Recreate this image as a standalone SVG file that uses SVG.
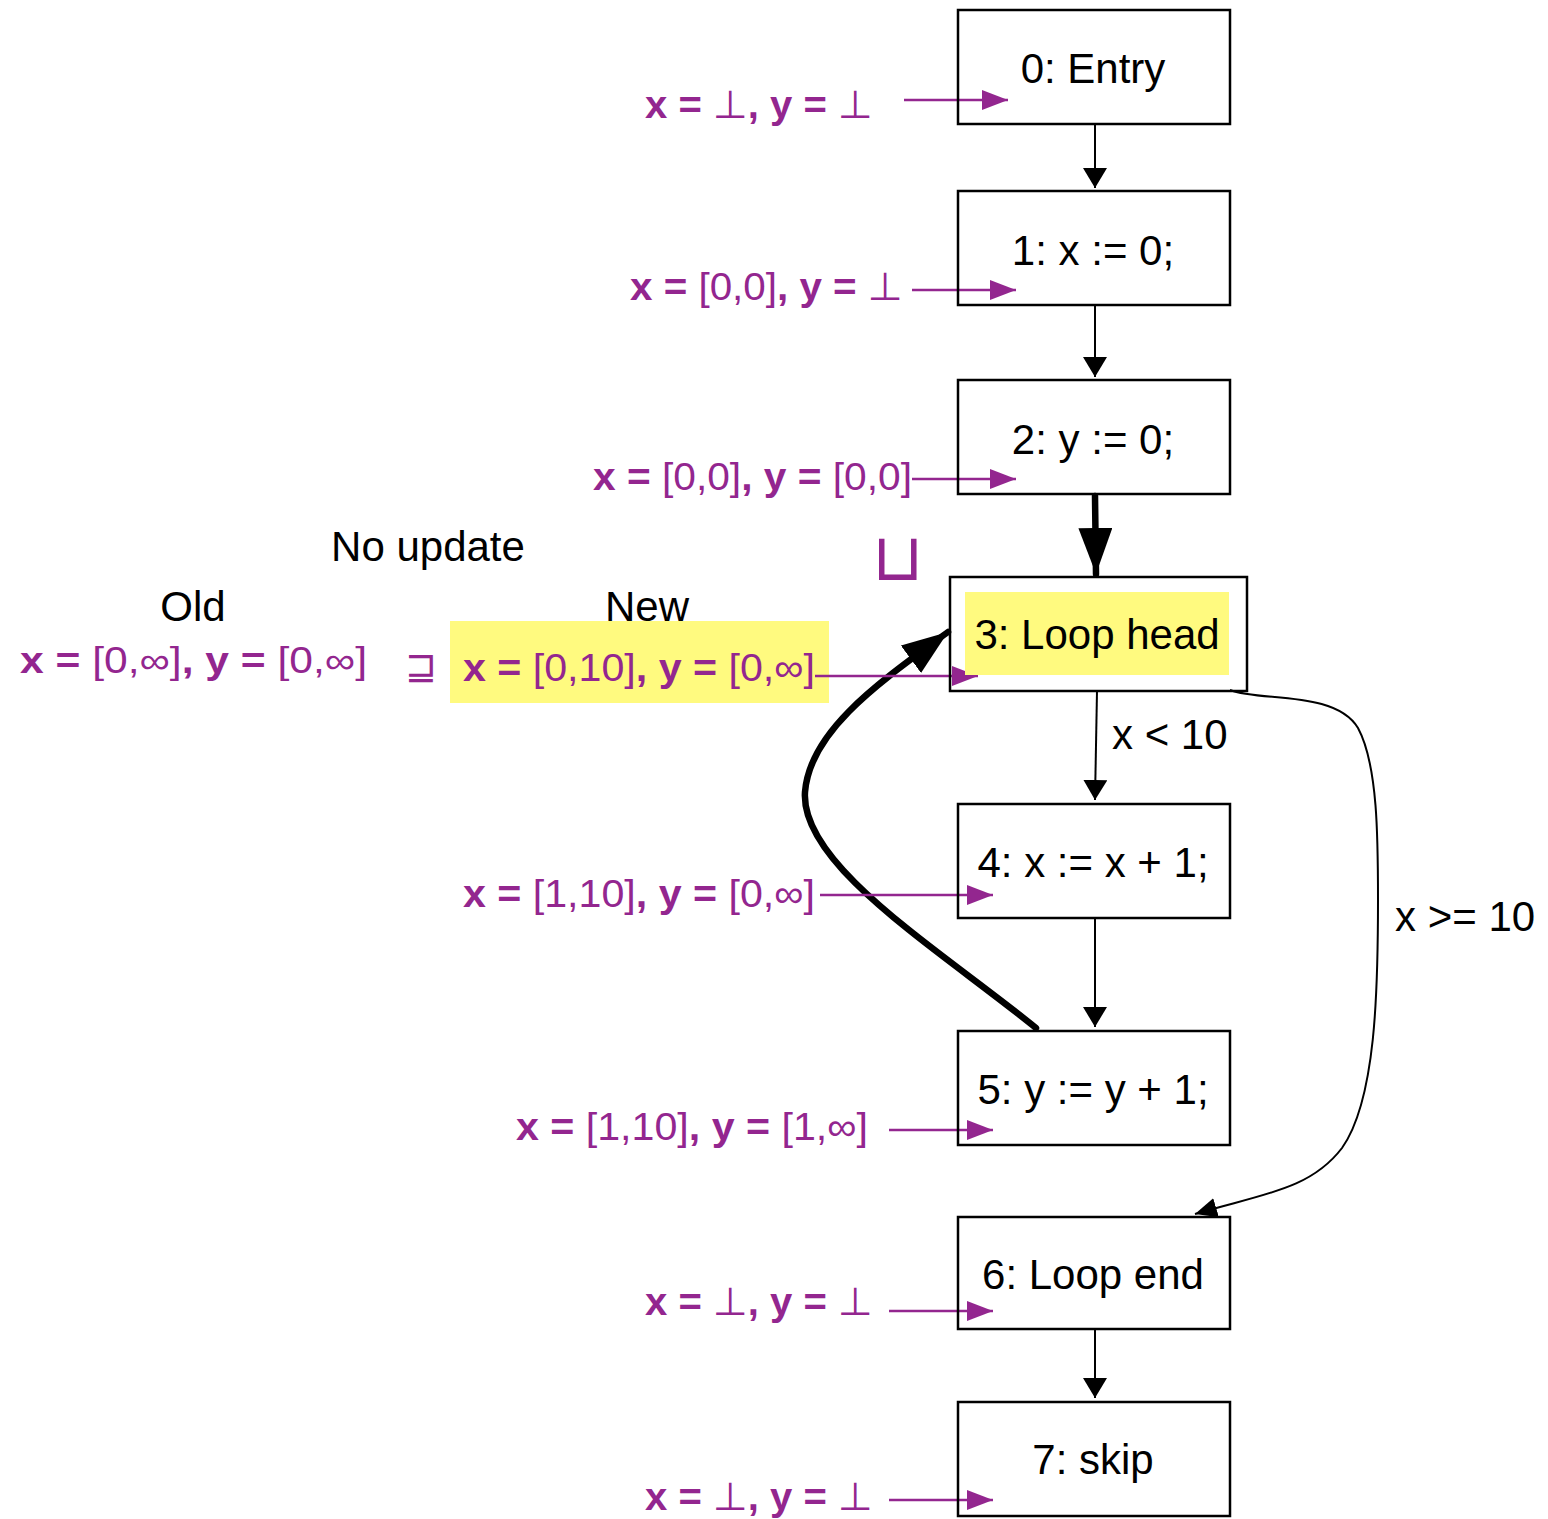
<svg xmlns="http://www.w3.org/2000/svg" width="1548" height="1519" viewBox="0 0 1548 1519">
<style>
.box{fill:none;stroke:#000;stroke-width:2.5}
.lbl{font-family:"Liberation Sans","DejaVu Sans",sans-serif;font-size:42px;fill:#000}
.st{font-family:"Liberation Sans","DejaVu Sans",sans-serif;font-size:39px;fill:#93268F}
.b{font-weight:bold}
.edge{fill:none;stroke:#000;stroke-width:2}
.thick{fill:none;stroke:#000;stroke-width:6.5;stroke-linecap:round}
.pl{fill:none;stroke:#93268F;stroke-width:2.5}
</style>
<defs>
<marker id="ah" markerUnits="userSpaceOnUse" viewBox="0 0 20 24" refX="20" refY="12" markerWidth="20" markerHeight="24" orient="auto"><path d="M0,0 L20,12 L0,24 Z" fill="#000"/></marker>
<marker id="ahbig" markerUnits="userSpaceOnUse" viewBox="0 0 46 34" refX="46" refY="17" markerWidth="46" markerHeight="34" orient="auto"><path d="M0,0 L46,17 L0,34 Z" fill="#000"/></marker>
<marker id="ahs" markerUnits="userSpaceOnUse" viewBox="0 0 22 20" refX="22" refY="10" markerWidth="22" markerHeight="20" orient="auto"><path d="M0,0 L22,10 L0,20 Z" fill="#000"/></marker>
<marker id="pa" markerUnits="userSpaceOnUse" viewBox="0 0 26 20" refX="26" refY="10" markerWidth="26" markerHeight="20" orient="auto"><path d="M0,0 L26,10 L0,20 Z" fill="#93268F"/></marker>
</defs>

<rect x="450" y="621" width="379" height="82" fill="#FFFA7F"/>

<g id="connectors">
<path class="edge" d="M1095,124 L1095,188" marker-end="url(#ah)"/>
<path class="edge" d="M1095,305 L1095,377" marker-end="url(#ah)"/>
<path class="thick" d="M1095,496 L1096,574" marker-end="url(#ahbig)"/>
<path class="edge" d="M1097,691 L1095,800" marker-end="url(#ah)"/>
<path class="edge" d="M1095,918 L1095,1027" marker-end="url(#ah)"/>
<path class="edge" d="M1095,1329 L1095,1398" marker-end="url(#ah)"/>
<path class="thick" d="M1036,1028 C940,950 800,865 805,792 C810,730 880,682 948,632" marker-end="url(#ahbig)"/>
<path class="edge" d="M1230,690 C1260,702 1335,690 1358,728 C1378,765 1378,840 1378,900 C1378,990 1376,1100 1342,1148 C1310,1190 1262,1194 1195,1214" marker-end="url(#ahs)"/>
<path class="pl" d="M904,100 L1008,100" marker-end="url(#pa)"/>
<path class="pl" d="M912,290 L1016,290" marker-end="url(#pa)"/>
<path class="pl" d="M912,479 L1016,479" marker-end="url(#pa)"/>
<path class="pl" d="M815,676 L978,676" marker-end="url(#pa)"/>
<path class="pl" d="M820,895 L993,895" marker-end="url(#pa)"/>
<path class="pl" d="M889,1130 L993,1130" marker-end="url(#pa)"/>
<path class="pl" d="M889,1311 L993,1311" marker-end="url(#pa)"/>
<path class="pl" d="M889,1500 L993,1500" marker-end="url(#pa)"/>
</g>

<g id="n0"><rect class="box" x="958" y="10" width="272" height="114"/><text class="lbl" x="1093" y="83" text-anchor="middle">0: Entry</text></g>
<g id="n1"><rect class="box" x="958" y="191" width="272" height="114"/><text class="lbl" x="1093" y="265" text-anchor="middle">1: x := 0;</text></g>
<g id="n2"><rect class="box" x="958" y="380" width="272" height="114"/><text class="lbl" x="1093" y="454" text-anchor="middle">2: y := 0;</text></g>
<g id="n3"><rect class="box" x="950" y="577" width="297" height="114"/><rect x="965" y="592" width="264" height="83" fill="#FFFA7F"/><text class="lbl" x="1097" y="649" text-anchor="middle">3: Loop head</text></g>
<g id="n4"><rect class="box" x="958" y="804" width="272" height="114"/><text class="lbl" x="1093" y="877" text-anchor="middle">4: x := x + 1;</text></g>
<g id="n5"><rect class="box" x="958" y="1031" width="272" height="114"/><text class="lbl" x="1093" y="1104" text-anchor="middle">5: y := y + 1;</text></g>
<g id="n6"><rect class="box" x="958" y="1217" width="272" height="112"/><text class="lbl" x="1093" y="1289" text-anchor="middle">6: Loop end</text></g>
<g id="n7"><rect class="box" x="958" y="1402" width="272" height="114"/><text class="lbl" x="1093" y="1474" text-anchor="middle">7: skip</text></g>

<g id="labels">
<text class="lbl" x="1112" y="749">x &lt; 10</text>
<text class="lbl" x="1395" y="931">x &gt;= 10</text>
<text class="lbl" x="428" y="561" text-anchor="middle">No update</text>
<text class="lbl" x="193" y="621" text-anchor="middle">Old</text>
<text class="lbl" x="647" y="621" text-anchor="middle">New</text>
<text class="st" x="872" y="580" style="font-size:66px">⊔</text>
<text class="st" x="405" y="679" style="font-size:38px">⊒</text>

<text class="st" x="645" y="118" textLength="228" lengthAdjust="spacingAndGlyphs"><tspan class="b">x = </tspan>⊥<tspan class="b">, y = </tspan>⊥</text>
<text class="st" x="630" y="300" textLength="273" lengthAdjust="spacingAndGlyphs"><tspan class="b">x = </tspan>[0,0]<tspan class="b">, y = </tspan>⊥</text>
<text class="st" x="593" y="490" textLength="319" lengthAdjust="spacingAndGlyphs"><tspan class="b">x = </tspan>[0,0]<tspan class="b">, y = </tspan>[0,0]</text>
<text class="st" x="20" y="673" style="font-size:36px" textLength="347" lengthAdjust="spacingAndGlyphs"><tspan class="b">x = </tspan>[0,∞]<tspan class="b">, y = </tspan>[0,∞]</text>
<text class="st" x="463" y="681" textLength="352" lengthAdjust="spacingAndGlyphs"><tspan class="b">x = </tspan>[0,10]<tspan class="b">, y = </tspan>[0,∞]</text>
<text class="st" x="463" y="907" textLength="352" lengthAdjust="spacingAndGlyphs"><tspan class="b">x = </tspan>[1,10]<tspan class="b">, y = </tspan>[0,∞]</text>
<text class="st" x="516" y="1140" textLength="352" lengthAdjust="spacingAndGlyphs"><tspan class="b">x = </tspan>[1,10]<tspan class="b">, y = </tspan>[1,∞]</text>
<text class="st" x="645" y="1315" textLength="228" lengthAdjust="spacingAndGlyphs"><tspan class="b">x = </tspan>⊥<tspan class="b">, y = </tspan>⊥</text>
<text class="st" x="645" y="1510" textLength="228" lengthAdjust="spacingAndGlyphs"><tspan class="b">x = </tspan>⊥<tspan class="b">, y = </tspan>⊥</text>
</g>
</svg>
